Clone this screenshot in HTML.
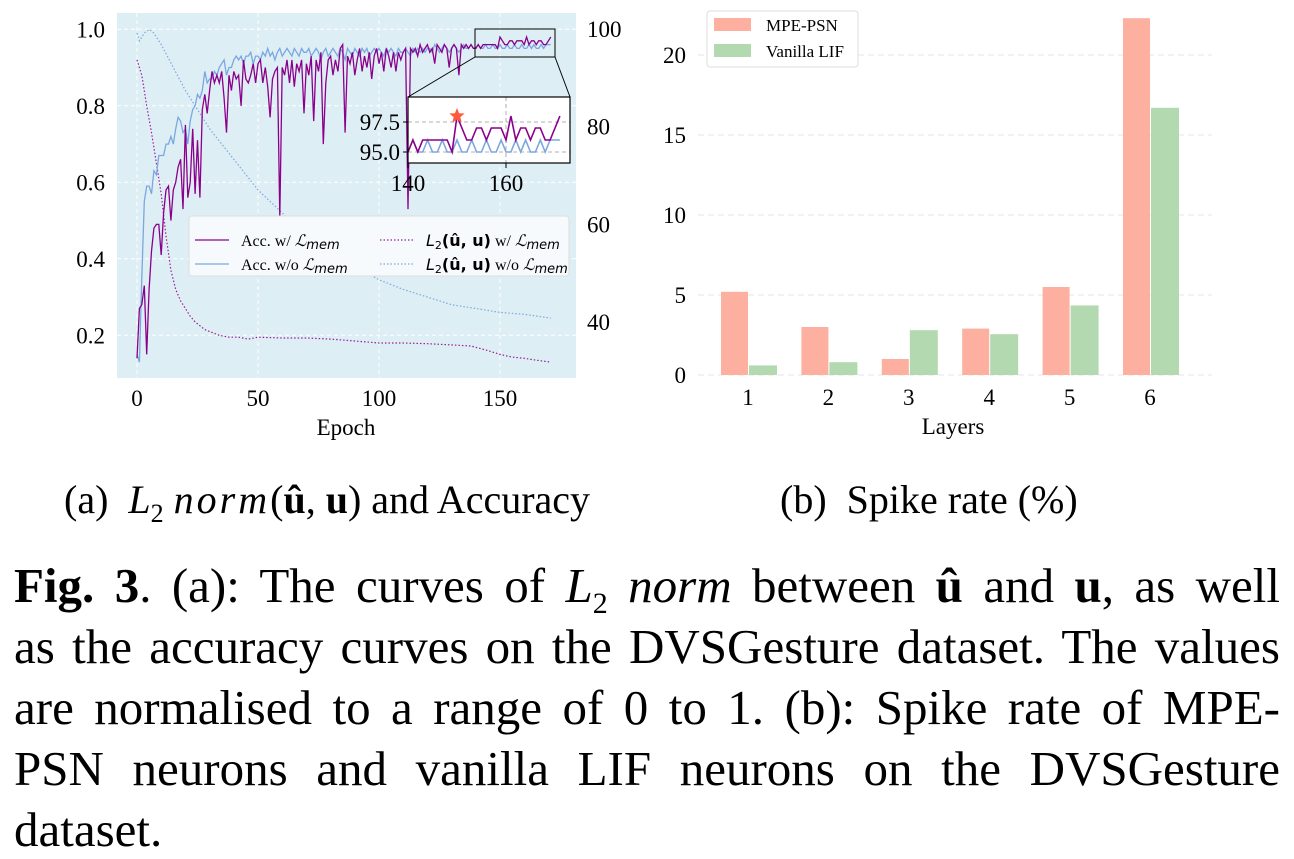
<!DOCTYPE html>
<html><head><meta charset="utf-8">
<style>
body{margin:0;width:1294px;height:859px;background:#fff;overflow:hidden;font-family:"Liberation Serif",serif;}
svg{position:absolute;left:0;top:0}
.cap{position:absolute;left:14px;width:1266px;font-size:49px;line-height:56px;text-align:justify;text-align-last:justify;white-space:nowrap;}
.cap.last{text-align-last:left}
.sub{position:absolute;font-size:40px;top:476px;white-space:nowrap}
</style></head><body>
<svg id="chart" width="1294" height="470" font-family="Liberation Serif, serif"></svg>
<div class="sub" style="left:64px">(a)&nbsp; <i>L</i><sub style="font-size:26px">2</sub> <i style="letter-spacing:3px">norm</i>(<b>û</b>, <b>u</b>) and Accuracy</div>
<div class="sub" style="left:780px">(b)&nbsp; Spike rate (%)</div>
<div class="cap" style="top:558px"><b>Fig. 3</b>. (a): The curves of <i>L</i><sub style="font-size:30px">2</sub> <i>norm</i> between <b>û</b> and <b>u</b>, as well</div>
<div class="cap" style="top:619px">as the accuracy curves on the DVSGesture dataset. The values</div>
<div class="cap" style="top:680px">are normalised to a range of 0 to 1. (b): Spike rate of MPE-</div>
<div class="cap" style="top:741px">PSN neurons and vanilla LIF neurons on the DVSGesture</div>
<div class="cap last" style="top:802px">dataset.</div>
<script>
const accWith=[.14,.27,.28,.33,.15,.32,.42,.48,.49,.49,.41,.52,.58,.59,.50,.58,.60,.64,.66,.53,.75,.56,.60,.74,.57,.71,.56,.79,.83,.78,.84,.89,.86,.88,.86,.89,.82,.73,.88,.84,.89,.87,.88,.80,.92,.87,.86,.88,.91,.86,.91,.92,.86,.90,.85,.77,.87,.89,.90,.51,.90,.88,.92,.86,.92,.85,.91,.89,.92,.78,.91,.88,.93,.76,.92,.89,.94,.70,.86,.92,.93,.88,.92,.89,.95,.96,.73,.93,.91,.94,.88,.92,.95,.89,.93,.90,.94,.87,.93,.95,.91,.94,.89,.95,.93,.90,.94,.89,.94,.92,.94,.95,.53,.95,.94,.95,.93,.96,.94,.95,.96,.94,.95,.91,.96,.95,.94,.96,.95,.90,.95,.96,.95,.88,.96,.95,.96,.95,.96,.95,.95,.96,.95,.96,.96,.96,.96,.96,.96,.95,.98,.97,.96,.96,.97,.97,.96,.97,.97,.97,.96,.98,.96,.97,.97,.96,.97,.97,.96,.96,.97,.98];
const accWithout=[.15,.13,.35,.55,.59,.59,.57,.63,.62,.67,.67,.67,.70,.70,.72,.70,.74,.77,.76,.73,.74,.70,.76,.79,.80,.83,.82,.84,.89,.86,.87,.87,.89,.88,.90,.91,.92,.88,.90,.90,.92,.93,.92,.93,.91,.93,.93,.94,.91,.93,.93,.92,.94,.93,.95,.93,.94,.92,.94,.95,.93,.94,.95,.94,.93,.95,.94,.93,.95,.94,.94,.95,.93,.94,.95,.94,.92,.94,.95,.93,.94,.95,.94,.93,.95,.94,.92,.95,.94,.93,.95,.94,.93,.95,.94,.95,.93,.94,.95,.94,.95,.94,.93,.95,.94,.95,.94,.93,.95,.94,.94,.95,.94,.93,.95,.94,.95,.94,.95,.94,.95,.95,.94,.96,.95,.94,.95,.96,.95,.94,.95,.96,.95,.94,.95,.96,.95,.95,.96,.95,.95,.96,.95,.95,.96,.95,.95,.96,.95,.95,.96,.95,.95,.96,.95,.95,.96,.95,.95,.96,.95,.95,.96,.95,.96,.95,.95,.96,.95,.96,.96,.96];
const l2WithEpochs=[0,2,4,6,8,10,12,14,16,18,20,22,24,26,28,30,34,38,42,46,50,60,70,80,90,100,110,120,130,138,145,150,155,160,165,171];
const l2WithValues=[.92,.88,.80,.73,.65,.57,.46,.37,.32,.29,.27,.25,.235,.225,.215,.21,.20,.195,.195,.19,.195,.193,.193,.19,.185,.18,.18,.178,.175,.172,.16,.15,.143,.14,.135,.13];
const l2WithoutEpochs=[0,1,3,5,7,10,15,20,25,30,40,50,60,70,80,90,100,110,120,130,140,150,160,171];
const l2WithoutValues=[.99,.97,.99,1.0,.99,.96,.90,.84,.79,.74,.66,.58,.52,.46,.42,.38,.345,.32,.30,.28,.27,.26,.255,.245];
const leftTicks=[0.2,0.4,0.6,0.8,1.0];
const rightTicks=[40,60,80,100];
const epochTicks=[0,50,100,150];
const insetYTicks=[95.0,97.5];
const insetXTicks=[140,160];
const layers=[1,2,3,4,5,6];
const mpePSN=[5.2,3.0,1.0,2.9,5.5,22.3];
const vanillaLIF=[0.6,0.8,2.8,2.55,4.35,16.7];
const barTicks=[0,5,10,15,20];

const NS='http://www.w3.org/2000/svg';
const svg=document.getElementById('chart');
function mk(tag,attrs,parent){const e=document.createElementNS(NS,tag);for(const k in attrs)e.setAttribute(k,attrs[k]);(parent||svg).appendChild(e);return e;}
function txt(s,attrs,parent){const e=mk('text',attrs,parent);e.textContent=s;return e;}

// ---- chart a ----
const X=e=>137+e*2.42;
const Y=v=>29.3+(1-v)*382.5;
const YR=v=>29+(100-v)*4.885;
const bg=mk('rect',{x:117,y:13,width:459,height:365,fill:'#deeef5'});


epochTicks.forEach(t=>{
  const g=mk('line',{x1:X(t),x2:X(t),y1:13,y2:378,stroke:'#fff','stroke-dasharray':'4,3','stroke-width':1});
  
  
  const l=txt(t,{x:X(t),y:406,'font-size':23,'text-anchor':'middle'});
  
  
});
leftTicks.forEach(t=>{
  const g=mk('line',{x1:117,x2:576,y1:Y(t),y2:Y(t),stroke:'#fff','stroke-dasharray':'4,3','stroke-width':1});
  
  
  const l=txt(t.toFixed(1),{x:105,y:Y(t)+8,'font-size':23,'text-anchor':'end'});
  
  
});
rightTicks.forEach(t=>{
  const l=txt(t,{x:587,y:YR(t)+8,'font-size':23});
  
  
});
const xt=txt('Epoch',{x:346,y:435,'font-size':23,'text-anchor':'middle'});



function pathFrom(xs,ys,fx,fy){return xs.map((x,i)=>(i?'L':'M')+fx(x).toFixed(1)+','+fy(ys[i]).toFixed(1)).join('');}
const idx=accWith.map((_,i)=>i);
let p=mk('path',{d:pathFrom(l2WithoutEpochs,l2WithoutValues,X,Y),fill:'none',stroke:'#7ba7e0','stroke-width':1.2,'stroke-dasharray':'1.5,2'});


p=mk('path',{d:pathFrom(l2WithEpochs,l2WithValues,X,Y),fill:'none',stroke:'#9b1d9b','stroke-width':1.2,'stroke-dasharray':'1.5,2'});


p=mk('path',{d:pathFrom(idx,accWithout,X,Y),fill:'none',stroke:'#7ba7e0','stroke-width':1.3});


p=mk('path',{d:pathFrom(idx,accWith,X,Y),fill:'none',stroke:'#8b008b','stroke-width':1.3});



const zb=mk('rect',{x:475,y:29,width:80,height:28,fill:'none',stroke:'#000','stroke-width':1});


mk('line',{x1:475,y1:57,x2:408,y2:97,stroke:'#000','stroke-width':1});
mk('line',{x1:555,y1:57,x2:570,y2:97,stroke:'#000','stroke-width':1});
const IX=e=>408+(e-140)*4.9;
const IY=v=>152-(v-95)*12;
const ins=mk('g',{});


mk('rect',{x:408,y:97,width:162,height:66,fill:'#fff'},ins);
insetYTicks.forEach(t=>{
  mk('line',{x1:408,x2:570,y1:IY(t),y2:IY(t),stroke:'#999','stroke-dasharray':'4,3','stroke-width':0.8},ins);
  mk('line',{x1:403,x2:408,y1:IY(t),y2:IY(t),stroke:'#000'},ins);
  const l=txt(t.toFixed(1),{x:400,y:IY(t)+8,'font-size':23,'text-anchor':'end'},ins);
  
  
});
insetXTicks.forEach(t=>{
  mk('line',{x1:IX(t),x2:IX(t),y1:97,y2:163,stroke:'#999','stroke-dasharray':'4,3','stroke-width':0.8},ins);
  mk('line',{x1:IX(t),x2:IX(t),y1:163,y2:168,stroke:'#000'},ins);
  const l=txt(t,{x:IX(t),y:191,'font-size':23,'text-anchor':'middle'},ins);
  
  
});
const sub=idx.filter(i=>i>=140);
mk('path',{d:pathFrom(sub,sub.map(i=>accWithout[i]*100),IX,IY),fill:'none',stroke:'#7ba7e0','stroke-width':1.6},ins);
mk('path',{d:pathFrom(sub,sub.map(i=>accWith[i]*100),IX,IY),fill:'none',stroke:'#8b008b','stroke-width':1.6},ins);
let best=0;accWith.forEach((v,i)=>{if(v>accWith[best])best=i;});
const sx=IX(best),sy=IY(accWith[best]*100);
let sp='';for(let k=0;k<10;k++){const r=k%2?3.5:8,a=-Math.PI/2+k*Math.PI/5;sp+=(k?'L':'M')+(sx+r*Math.cos(a)).toFixed(1)+','+(sy+r*Math.sin(a)).toFixed(1);}
const star=mk('path',{d:sp+'Z',fill:'#ff5a3c'},ins);


mk('rect',{x:408,y:97,width:162,height:66,fill:'none',stroke:'#000','stroke-width':1.2},ins);

const lg=mk('g',{});


mk('rect',{x:189,y:216,width:380,height:60,rx:3,fill:'#f7fafc',stroke:'#ddd'},lg);
const items=[[195,236,'#8b008b',0,'Acc. w/ '],[195,260,'#7ba7e0',0,'Acc. w/o '],[380,236,'#9b1d9b',1,''],[380,260,'#7ba7e0',1,'']];
items.forEach((it,i)=>{
  mk('line',{x1:it[0],x2:it[0]+34,y1:it[1]+4,y2:it[1]+4,stroke:it[2],'stroke-width':1.3,'stroke-dasharray':it[3]?'1.5,2':'none'},lg);
  const t=mk('text',{x:it[0]+46,y:it[1]+10,'font-size':16},lg);
  
  
  if(i<2){t.innerHTML=it[4]+'<tspan font-style="italic">ℒ</tspan><tspan font-size="13" dy="3" font-style="italic" font-family="DejaVu Sans">mem</tspan>';}
  else{t.innerHTML='<tspan font-style="italic" font-family="DejaVu Sans">L</tspan><tspan font-size="11" dy="3" font-family="DejaVu Sans">2</tspan><tspan dy="-3" font-family="DejaVu Sans" font-weight="bold">(û, u)</tspan> '+(i==2?'w/ ':'w/o ')+'<tspan font-style="italic">ℒ</tspan><tspan font-size="13" dy="3" font-style="italic" font-family="DejaVu Sans">mem</tspan>';}
});

// ---- chart b ----
const BX=l=>748+(l-1)*80.4;
const BY=v=>375-v*16;
barTicks.forEach(t=>{
  const g=mk('line',{x1:698,x2:1212,y1:BY(t),y2:BY(t),stroke:'#e6e6e6','stroke-dasharray':'6,4','stroke-width':1});
  
  
  const l=txt(t,{x:686,y:BY(t)+8,'font-size':23,'text-anchor':'end'});
  
  
});
layers.forEach((l,i)=>{
  const b1=mk('rect',{x:BX(l)-27,y:BY(mpePSN[i]),width:27,height:BY(0)-BY(mpePSN[i]),fill:'#fdafa0'});
  
  
  const b2=mk('rect',{x:BX(l)+1,y:BY(vanillaLIF[i]),width:28,height:BY(0)-BY(vanillaLIF[i]),fill:'#b3d9b0'});
  
  
  const t=txt(l,{x:BX(l),y:405,'font-size':23,'text-anchor':'middle'});
  
  
});
const bt=txt('Layers',{x:953,y:434,'font-size':23,'text-anchor':'middle'});


const lb=mk('g',{});


mk('rect',{x:707,y:11,width:151,height:56,rx:3,fill:'#fff',stroke:'#ddd'},lb);
mk('rect',{x:714,y:18,width:37,height:13,fill:'#fdafa0'},lb);
mk('rect',{x:714,y:44,width:37,height:13,fill:'#b3d9b0'},lb);
let e1=txt('MPE-PSN',{x:766,y:31,'font-size':17},lb);


let e2=txt('Vanilla LIF',{x:766,y:57,'font-size':17},lb);


</script>
</body></html>
